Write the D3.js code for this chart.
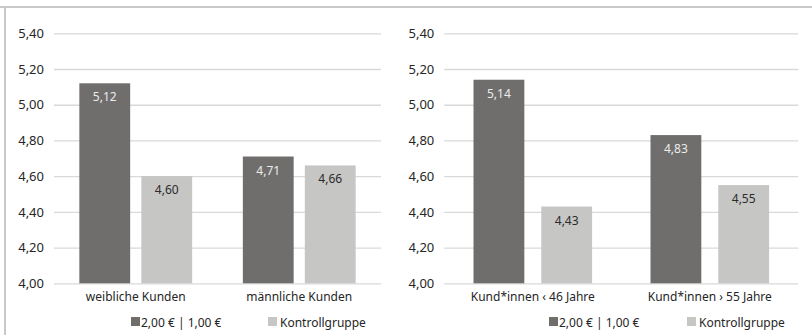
<!DOCTYPE html>
<html>
<head>
<meta charset="utf-8">
<script src="https://cdn.jsdelivr.net/npm/d3@7"></script>
<style>
  html, body { margin: 0; padding: 0; background: #fff; }
  svg { display: block; font-family: "Noto Sans", "Open Sans", sans-serif; }
</style>
</head>
<body>
<svg id="chart" width="812" height="335"></svg>
<script>
// Series shown in both panels
const seriesNames = ["2,00 € | 1,00 €", "Kontrollgruppe"];

// Panel 1: by gender
const genderCategories = ["weibliche Kunden", "männliche Kunden"];
const genderTreatment = [5.12, 4.71];
const genderControl = [4.60, 4.66];

// Panel 2: by age
const ageCategories = ["Kund*innen ‹ 46 Jahre", "Kund*innen › 55 Jahre"];
const ageTreatment = [5.14, 4.83];
const ageControl = [4.43, 4.55];

// Shared value axis
const yTicks = [4.0, 4.2, 4.4, 4.6, 4.8, 5.0, 5.2, 5.4];

const colors = ["#6f6e6c", "#c6c6c5"];
const labelColors = ["#ececec", "#2b2b2b"];
const fmt = v => d3.format(".2f")(v).replace(".", ",");

const svg = d3.select("#chart");

// Frame lines (top and left)
svg.append("line").attr("x1", 0).attr("x2", 812).attr("y1", 7).attr("y2", 7)
  .attr("stroke", "#c9c9c9").attr("stroke-width", 2);
svg.append("line").attr("x1", 5).attr("x2", 5).attr("y1", 6).attr("y2", 335)
  .attr("stroke", "#c9c9c9").attr("stroke-width", 2);

function drawPanel(cfg) {
  const { categories, treatment, control, x0, x1, outerPad, innerPad, legendX } = cfg;
  const rows = categories.map((c, i) => ({ cat: c, values: [treatment[i], control[i]] }));

  const y = d3.scaleLinear().domain([4.0, 5.4]).range([283.3, 33.3]);
  const xCat = d3.scaleBand().domain(categories).range([x0, x1])
    .paddingInner(outerPad).paddingOuter(outerPad / 2);
  const xSer = d3.scaleBand().domain(seriesNames).range([0, xCat.bandwidth()])
    .paddingInner(innerPad);

  const g = svg.append("g");

  // Gridlines + tick labels
  const yAxis = g.append("g")
    .attr("transform", `translate(${x0},0)`)
    .call(d3.axisLeft(y).tickValues(yTicks).tickFormat(fmt)
      .tickSize(-(x1 - x0)).tickPadding(10));
  yAxis.select(".domain").remove();
  yAxis.selectAll(".tick line").attr("stroke", "#d9d9d9").attr("stroke-width", 1.3);
  yAxis.selectAll(".tick text").attr("fill", "#262626")
    .style("font-size", "13px").style("font-family", "\"Noto Sans\", sans-serif");

  // Bars
  const groups = g.selectAll(".grp").data(rows).join("g")
    .attr("transform", d => `translate(${xCat(d.cat)},0)`);

  groups.selectAll("rect")
    .data(d => d.values.map((v, i) => ({ s: seriesNames[i], i, v })))
    .join("rect")
    .attr("x", d => xSer(d.s))
    .attr("width", xSer.bandwidth())
    .attr("y", d => y(d.v))
    .attr("height", d => y(4.0) - y(d.v))
    .attr("fill", d => colors[d.i]);

  groups.selectAll("text.val")
    .data(d => d.values.map((v, i) => ({ s: seriesNames[i], i, v })))
    .join("text")
    .attr("class", "val")
    .attr("x", d => xSer(d.s) + xSer.bandwidth() / 2)
    .attr("y", d => y(d.v) + 18)
    .attr("text-anchor", "middle")
    .attr("fill", d => labelColors[d.i])
    .style("font-size", "12px")
    .text(d => fmt(d.v));

  // Category labels
  g.selectAll("text.cat").data(categories).join("text")
    .attr("class", "cat")
    .attr("x", d => xCat(d) + xCat.bandwidth() / 2)
    .attr("y", 301)
    .attr("text-anchor", "middle")
    .attr("fill", "#262626")
    .style("font-size", "12px")
    .text(d => d);

  // Legend
  const legend = g.selectAll(".leg").data(seriesNames).join("g")
    .attr("transform", (d, i) => `translate(${legendX[i]},322)`);
  legend.append("rect").attr("x", 0).attr("y", -5).attr("width", 9).attr("height", 9)
    .attr("fill", (d, i) => colors[i]);
  legend.append("text").attr("x", (d, i) => i === 0 ? 10 : 12).attr("y", 4.5)
    .attr("fill", "#262626").style("font-size", "12px").text(d => d);
}

drawPanel({
  categories: genderCategories, treatment: genderTreatment, control: genderControl,
  x0: 54, x1: 381, outerPad: 0.31, innerPad: 0.18, legendX: [131, 268]
});

drawPanel({
  categories: ageCategories, treatment: ageTreatment, control: ageControl,
  x0: 444.3, x1: 798.3, outerPad: 0.33, innerPad: 0.25, legendX: [549, 687]
});
</script>
</body>
</html>
